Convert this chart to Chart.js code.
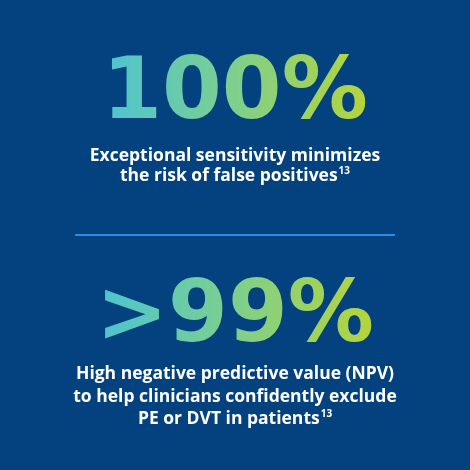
<!DOCTYPE html>
<html>
<head>
<meta charset="utf-8">
<script src="https://cdn.jsdelivr.net/npm/chart.js@4.4.0/dist/chart.umd.min.js"></script>
<style>
  html, body { margin: 0; padding: 0; background: #03427f; }
  #wrap { width: 470px; height: 470px; }
</style>
</head>
<body>
<div id="wrap"><canvas id="myChart" width="470" height="470"></canvas></div>
<script>
'use strict';

//////////////// data ///////////////////
let statValues = ['100%', '>99%'];
let statCaptions = [
  ['Exceptional sensitivity minimizes', 'the risk of false positives'],
  ['High negative predictive value (NPV)', 'to help clinicians confidently exclude', 'PE or DVT in patients']
];
let statRefs = ['13', '13'];

//////////////// layout ///////////////////
let bgColor = '#03427f';
let bigTop = [118, 341];          // baseline of the big numbers
let captionTop = [161, 379];      // baseline of first caption line
let lineGap = [20, 22.5];
let bigFont = 'bold 86px "DejaVu Sans"';
let capFont = 'bold 17.5px "Open Sans"';
let refFont = 'bold 10px "Open Sans"';

////////////// plugin drawing the stats /////////////////////////////
const statPlugin = {
  id: 'statPlugin',
  beforeDraw(chart) {
    const ctx = chart.ctx;
    ctx.save();
    ctx.fillStyle = bgColor;
    ctx.fillRect(0, 0, chart.width, chart.height);
    ctx.restore();
  },
  afterDraw(chart) {
    const ctx = chart.ctx;
    const cx = chart.width / 2;
    ctx.save();
    ctx.textAlign = 'center';
    ctx.textBaseline = 'alphabetic';

    for (let i = 0; i < statValues.length; i++) {
      // big gradient number
      ctx.font = bigFont;
      let w = ctx.measureText(statValues[i]).width;
      let grad = ctx.createLinearGradient(cx - w / 2, 0, cx + w / 2, 0);
      grad.addColorStop(0, '#4cc4d2');
      grad.addColorStop(0.5, '#7ecf8c');
      grad.addColorStop(1, '#b7d43a');
      ctx.fillStyle = grad;
      ctx.fillText(statValues[i], cx, bigTop[i]);

      // caption lines
      ctx.fillStyle = '#ffffff';
      let lines = statCaptions[i];
      for (let j = 0; j < lines.length; j++) {
        let y = captionTop[i] + j * lineGap[i];
        ctx.font = capFont;
        if (j === lines.length - 1) {
          let mainW = ctx.measureText(lines[j]).width;
          ctx.font = refFont;
          let refW = ctx.measureText(statRefs[i]).width;
          let x0 = cx - (mainW + refW + 1) / 2;
          ctx.textAlign = 'left';
          ctx.font = capFont;
          ctx.fillText(lines[j], x0, y);
          ctx.font = refFont;
          ctx.fillText(statRefs[i], x0 + mainW + 1, y - 7);
          ctx.textAlign = 'center';
        } else {
          ctx.fillText(lines[j], cx, y);
        }
      }
    }

    // divider
    ctx.strokeStyle = '#2a8ce6';
    ctx.lineWidth = 2;
    ctx.beginPath();
    ctx.moveTo(75, 235);
    ctx.lineTo(395, 235);
    ctx.stroke();
    ctx.restore();
  }
};

let ctx = document.getElementById('myChart').getContext('2d');
let myChart = new Chart(ctx, {
  type: 'bar',
  data: {
    labels: statValues,
    datasets: [{ label: 'stat', data: [], backgroundColor: 'rgba(0,0,0,0)' }]
  },
  options: {
    responsive: false,
    animation: false,
    events: [],
    layout: { padding: 0 },
    plugins: { legend: { display: false }, tooltip: { enabled: false } },
    scales: { x: { display: false }, y: { display: false } }
  },
  plugins: [statPlugin]
});
</script>
</body>
</html>
